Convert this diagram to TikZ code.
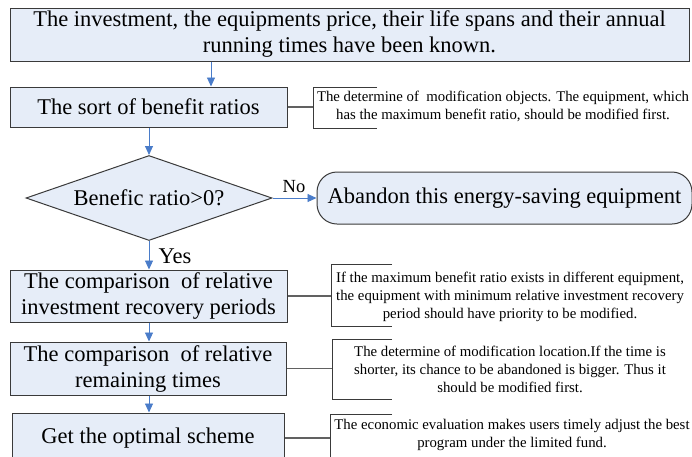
\documentclass[tikz,border=0pt]{standalone}
\usepackage{fontspec}
\setmainfont{Liberation Serif}
\usetikzlibrary{positioning, arrows.meta, shapes.geometric}
\definecolor{boxfill}{HTML}{E6EDF8}
\definecolor{flowblue}{HTML}{4A7CC9}
\definecolor{edgegray}{HTML}{3A3A3A}
\tikzset{
    stepbox/.style={draw=edgegray, fill=boxfill, line width=1pt, inner sep=0pt, align=center, font=\fontsize{22.5}{26}\selectfont},
    flow/.style={draw=flowblue, line width=0.9pt, -{Triangle[length=9pt,width=8pt]}},
    note/.style={align=center, inner sep=0pt, font=\fontsize{14.8}{18}\selectfont},
    bracket/.style={draw=edgegray, line width=1pt},
    tie/.style={draw=edgegray!80, line width=1.2pt}
}
\begin{document}
\begin{tikzpicture}[x=1pt, y=-1pt]
    \useasboundingbox (0,0) rectangle (692,456);
    % main flow
    \node[stepbox, minimum width=679pt, minimum height=53pt] (A) at (349.5,34.5){The investment, the equipments price, their life spans and their annual\\running times have been known.};
    \node[stepbox, minimum width=277pt, minimum height=40pt] (B) at (148.5,107){The sort of benefit ratios};
    \node[stepbox, diamond, aspect=2.9, minimum width=246pt, minimum height=85pt] (C) at (149,198){Benefic ratio>0?};
    \node[stepbox, rounded corners=20pt, minimum width=375pt, minimum height=52pt] (N) at (504.5,198){Abandon this energy-saving equipment};
    \node[stepbox, minimum width=277pt, minimum height=52pt] (D) at (148.5,296){The comparison~ of relative\\investment recovery periods};
    \node[stepbox, minimum width=276pt, minimum height=53pt] (E) at (148,368.5){The comparison~ of relative\\remaining times};
    \node[stepbox, minimum width=272pt, minimum height=50pt] (F) at (148,438){Get the optimal scheme};
    % arrows
    \coordinate (X) at (211,0);
    \draw[flow] (A.south -| X)--(B.north -| X);
    \draw[flow] (B.south -| C.north)--(C.north);
    \draw[flow] (C.east)--(N.west);
    \node[font=\fontsize{18.5}{22}\selectfont] (no) at (294,187){No};
    \draw[flow] (C.south)--(C.south |- D.north);
    \node[font=\fontsize{22.5}{26}\selectfont] (yes) at (175,256){Yes};
    \draw[flow] (D.south -| C.south)--(E.north -| C.south);
    \draw[flow] (E.south -| C.south)--(F.north -| C.south);
    % notes
    \coordinate (P1) at (313,107);
    \draw[bracket] (377,87)--(313,87)--(313,128)--(377,128);
    \draw[tie] (B.east)--(B.east -| P1);
    \node[note] (n1) at (503,106.5){The determine of~ modification objects. The equipment, which\\has the maximum benefit ratio, should be modified first.};
    \coordinate (P2) at (331,296);
    \draw[bracket] (392,264)--(331,264)--(331,326)--(392,326);
    \draw[tie] (D.east)--(D.east -| P2);
    \node[note] (n2) at (510,297){If the maximum benefit ratio exists in different equipment,\\the equipment with minimum relative investment recovery\\period should have priority to be modified.};
    \coordinate (P3) at (332,368);
    \draw[bracket] (392,339)--(332,339)--(332,399)--(392,399);
    \draw[tie] (E.east)--(E.east -| P3);
    \node[note] (n3) at (510,369){The determine of modification location.If the time is\\shorter, its chance to be abandoned is bigger. Thus it\\should be modified first.};
    \coordinate (P4) at (330,436);
    \draw[bracket] (392,414)--(330,414)--(330,470);
    \draw[tie] (F.east)--(F.east -| P4);
    \node[note] (n4) at (512,435){The economic evaluation makes users timely adjust the best\\program under the limited fund.};
\end{tikzpicture}
\end{document}
